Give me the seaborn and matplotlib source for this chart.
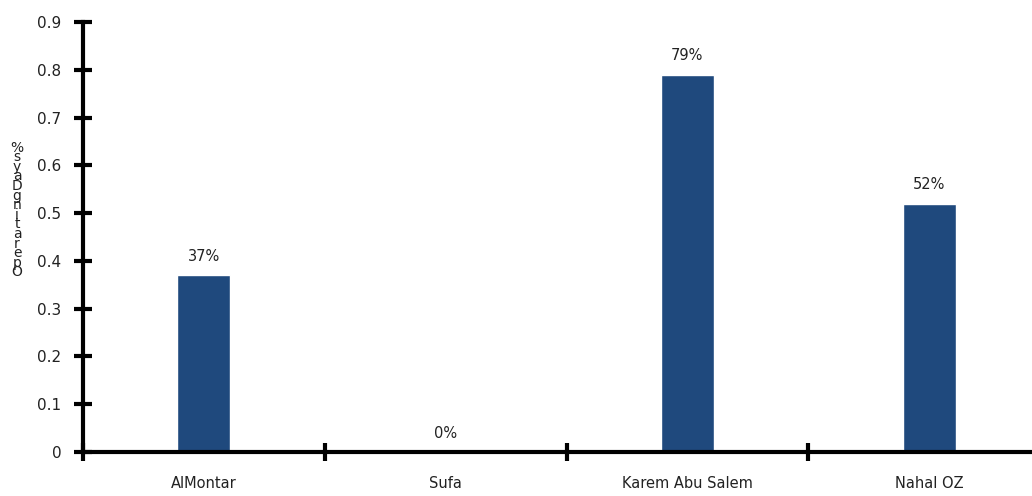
import matplotlib
matplotlib.use("Agg")
import matplotlib.pyplot as plt
import seaborn as sns
import pandas as pd

# Crossing points and share of operating days
crossings = ["AlMontar", "Sufa", "Karem Abu Salem", "Nahal OZ"]
open_share = [0.37, 0.0, 0.79, 0.52]
y_ticks = [0, 0.1, 0.2, 0.3, 0.4, 0.5, 0.6, 0.7, 0.8, 0.9]
y_title = "Operating Days %"

sns.set_theme(style="white")
plt.rcParams["font.family"] = ["DejaVu Sans"]

W, H = 1032, 496
fig = plt.figure(figsize=(W / 100, H / 100), dpi=100)
ax = fig.add_axes([83 / W, (H - 452) / H, (1050 - 83) / W, (452 - 22) / H])

df = pd.DataFrame({"crossing": crossings, "share": open_share})
sns.barplot(data=df, x="crossing", y="share", color="#1F497D", width=0.22,
            saturation=1, ax=ax)

ax.set_xlim(-0.5, len(crossings) - 0.5)
ax.set_ylim(0, 0.9)
ax.set_yticks(y_ticks)
ax.set_yticklabels([f"{t:g}" for t in y_ticks], fontsize=11, color="#222222")

# boundary ticks on the x axis, labels centred on each category
ax.set_xticks([i - 0.5 for i in range(len(crossings) + 1)])
ax.set_xticklabels([])
ax.set_xticks(range(len(crossings)), minor=True)
ax.set_xticklabels(crossings, minor=True, fontsize=10.5, color="#222222")
ax.tick_params(axis="x", which="minor", bottom=True, length=0, pad=17)
ax.tick_params(axis="both", which="major", direction="inout", length=13,
               width=3, color="black", bottom=True, left=True)
ax.tick_params(axis="y", pad=9)

for side in ["top", "right"]:
    ax.spines[side].set_visible(False)
for side in ["left", "bottom"]:
    ax.spines[side].set_linewidth(3)
    ax.spines[side].set_color("black")

ax.set_xlabel("")
ax.set_ylabel("")

for i, v in enumerate(open_share):
    ax.annotate(f"{v * 100:.0f}%", (i, v), xytext=(0, 8),
                textcoords="offset points", ha="center", va="bottom",
                fontsize=10.5, color="#222222")

# stacked y title
stacked = "\n".join(reversed(y_title.replace(" ", "")))
fig.text(17 / W, 1 - 210 / H, stacked, ha="center", va="center",
         fontsize=10, linespacing=0.6, color="#222222")

fig.savefig("out.png", dpi=100)
